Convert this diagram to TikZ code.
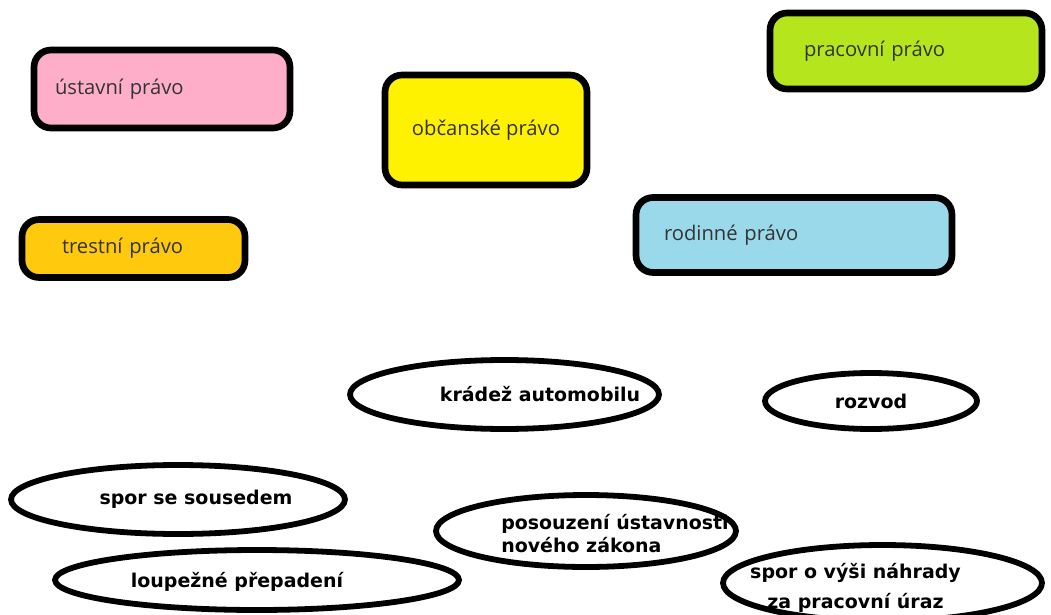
\documentclass[tikz,border=0pt]{standalone}
\usepackage{fontspec}
\setsansfont{Open Sans}
\newfontfamily\pripadfont{DejaVu Sans}
\usetikzlibrary{shapes.geometric}

\definecolor{ruzova}{HTML}{FFAEC9}
\definecolor{oranzova}{HTML}{FFC90E}
\definecolor{zluta}{HTML}{FFF200}
\definecolor{zelena}{HTML}{B5E61D}
\definecolor{modra}{HTML}{99D9EA}
\definecolor{textseda}{HTML}{333333}

\tikzset{
  pravo/.style={draw=black, line width=3.8pt, rounded corners=0.34cm,
    inner ysep=0pt, align=left, text=textseda,
    font=\sffamily\fontsize{11.5}{13}\selectfont},
  pripad/.style={ellipse, draw=black, line width=3.3pt, fill=white, inner sep=0pt},
  popis/.style={inner sep=0pt, text=black,
    font=\pripadfont\bfseries\fontsize{10.8}{12.8}\selectfont}
}

\begin{document}
\begin{tikzpicture}[x=0.02cm, y=-0.02cm]
  \useasboundingbox (0,0) rectangle (1051,615);

  % oblasti prava
  \node[pravo, fill=ruzova, minimum height=1.56cm, inner xsep=0.42cm, text width=4.28cm]
    (ustavni) at (162,89) {ústavní právo};
  \node[pravo, fill=oranzova, minimum height=1.16cm, inner xsep=0.8cm, text width=2.86cm]
    (trestni) at (133.5,248.5) {trestní právo};
  \node[pravo, fill=zluta, minimum width=4.04cm, minimum height=2.2cm, align=center]
    (obcanske) at (486,130) {občanské právo};
  \node[pravo, fill=zelena, minimum height=1.52cm, inner xsep=0.68cm, text width=4.08cm]
    (pracovni) at (906,51) {pracovní právo};
  \node[pravo, fill=modra, minimum height=1.5cm, inner xsep=0.56cm, text width=5.2cm]
    (rodinne) at (794,235) {rodinné právo};

  % pripady
  \node[pripad, minimum width=6.18cm, minimum height=1.38cm,
    label={[popis, xshift=0.71cm]center:krádež automobilu}]
    (kradez) at (504.5,394.5) {};
  \node[pripad, minimum width=4.24cm, minimum height=1.12cm,
    label={[popis]center:rozvod}]
    (rozvod) at (871,401) {};
  \node[pripad, minimum width=6.68cm, minimum height=1.38cm,
    label={[popis, xshift=0.36cm]center:spor se sousedem}]
    (soused) at (178,499.5) {};
  \node[pripad, minimum width=8.08cm, minimum height=1.2cm,
    label={[popis, xshift=-0.4cm, yshift=-0.04cm]center:loupežné přepadení}]
    (loupez) at (257,580) {};
  \node[pripad, minimum width=6.0cm, minimum height=1.44cm,
    label={[popis, align=left, xshift=0.58cm, yshift=-0.05cm]center:posouzení ústavnosti\\nového zákona}]
    (ustavnost) at (586,531) {};
  \node[pripad, minimum width=6.38cm, minimum height=1.52cm,
    label={[popis, align=center, xshift=-0.54cm, yshift=-0.1cm]center:spor o výši náhrady\\[4pt]za pracovní úraz}]
    (nahrada) at (882.5,583) {};
\end{tikzpicture}
\end{document}
